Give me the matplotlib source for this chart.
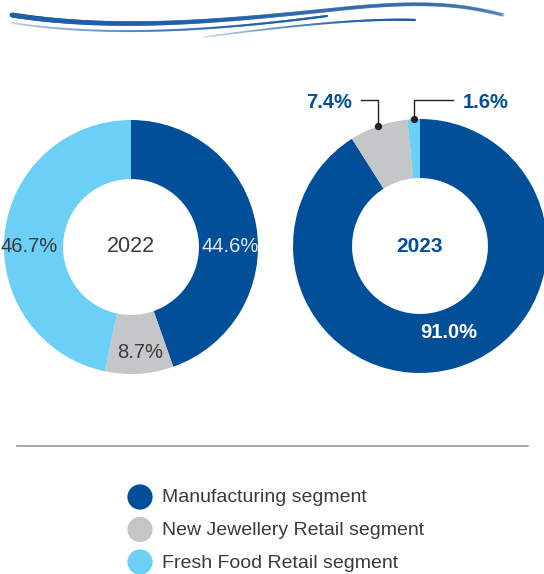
import numpy as np
import matplotlib.pyplot as plt
from matplotlib.collections import LineCollection
from matplotlib.colors import to_rgba

plt.rcParams['font.family'] = ['Liberation Sans', 'DejaVu Sans']

# segments and shares (%)
segments = ['Manufacturing segment', 'New Jewellery Retail segment', 'Fresh Food Retail segment']
colors = ['#004f98', '#c5c6c8', '#6bcff6']
share_2022 = [44.6, 8.7, 46.7]
share_2023 = [91.0, 7.4, 1.6]

W, H = 544, 574
fig = plt.figure(figsize=(W / 100, H / 100), dpi=100)

# overlay axes in pixel coordinates for decoration / legend
bg = fig.add_axes([0, 0, 1, 1], zorder=0)
bg.set_xlim(0, W)
bg.set_ylim(H, 0)
bg.axis('off')


def bezier(p0, p1, p2, p3, n=200):
    t = np.linspace(0, 1, n)[:, None]
    return ((1 - t) ** 3 * np.array(p0) + 3 * (1 - t) ** 2 * t * np.array(p1)
            + 3 * (1 - t) * t ** 2 * np.array(p2) + t ** 3 * np.array(p3))


def swoosh(pts, a0, a1, w0, w1):
    segs = np.stack([pts[:-1], pts[1:]], axis=1)
    n = len(segs)
    alphas = np.linspace(a0, a1, n)
    widths = np.linspace(w0, w1, n)
    cols = [to_rgba('#1f5fa8', a) for a in alphas]
    bg.add_collection(LineCollection(segs, colors=cols, linewidths=widths, capstyle='round'))


# decorative header curves
swoosh(bezier((12, 15), (120, 32), (230, 20), (330, 10)), 1.0, 0.5, 3.6, 2.8)
swoosh(bezier((330, 10), (420, 0), (460, 4), (503, 15)), 0.5, 0.2, 2.8, 2.6)
swoosh(bezier((12, 23), (110, 38), (220, 30), (327, 16)), 0.15, 1.0, 1.4, 1.6)
swoosh(bezier((204, 37), (280, 27), (360, 18), (415, 20)), 0.1, 1.0, 1.2, 1.6)

# separator
bg.plot([17, 528], [446, 446], color='#9a9a9a', lw=1.2)

# legend
for i, (name, c) in enumerate(zip(segments, colors)):
    y = 497 + 32.5 * i
    bg.scatter([140], [y], s=330, color=c, edgecolors='none')
    bg.text(162, y + 1, name, fontsize=14, color='#3a3a3a', va='center', ha='left')

R = 127
inner = 0.535


def donut(cx, cy, values):
    ax = fig.add_axes([(cx - R) / W, (H - cy - R) / H, 2 * R / W, 2 * R / H], zorder=2)
    wedges, _ = ax.pie(values, colors=colors, startangle=90, counterclock=False,
                       radius=1, wedgeprops=dict(width=1 - inner, edgecolor='none'))
    ax.set_xlim(-1, 1)
    ax.set_ylim(-1, 1)
    ax.set_aspect('equal')
    ax.axis('off')
    return ax, wedges


# 2022
ax1, _ = donut(131, 247, share_2022)
ax1.text(0, 0, '2022', ha='center', va='center', fontsize=15.5, color='#3a3a3a')
ax1.text(0.78, 0, f'{share_2022[0]:.1f}%', ha='center', va='center', fontsize=14.5, color='#e6e6ea')
ax1.text(0.07, -0.83, f'{share_2022[1]:.1f}%', ha='center', va='center', fontsize=14.5, color='#3a3a3a')
ax1.text(-0.8, 0, f'{share_2022[2]:.1f}%', ha='center', va='center', fontsize=14.5, color='#3a3a3a')

# 2023
ax2, w2 = donut(420, 246, share_2023)
ax2.text(0, 0, '2023', ha='center', va='center', fontsize=15, color='#004f98', fontweight='bold')
ax2.text(0.23, -0.685, f'{share_2023[0]:.1f}%', ha='center', va='center', fontsize=14.5,
         color='white', fontweight='bold')

# leader lines for the small slices
label_y = 1.15
for w, val, side in [(w2[1], share_2023[1], -1), (w2[2], share_2023[2], 1)]:
    mid = np.deg2rad((w.theta1 + w.theta2) / 2)
    px, py = np.cos(mid), np.sin(mid)
    end_x = -0.465 if side < 0 else 0.26
    ax2.plot([px, px, end_x], [py, label_y, label_y], color='#222222', lw=1, clip_on=False)
    ax2.scatter([px], [py], s=18, color='#222222', zorder=5, clip_on=False)
    tx = end_x - 0.07 if side < 0 else end_x + 0.08
    ax2.text(tx, label_y - 0.02, f'{val:.1f}%', ha='right' if side < 0 else 'left', va='center',
             fontsize=14.5, color='#004f98', fontweight='bold', clip_on=False)

fig.savefig('out.png', dpi=100)
